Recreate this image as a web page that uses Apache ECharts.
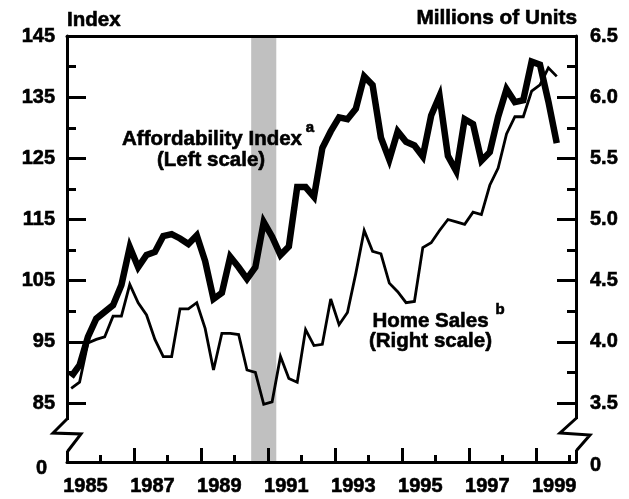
<!DOCTYPE html>
<html>
<head>
<meta charset="utf-8">
<style>
  html, body { margin: 0; padding: 0; background: #fff; }
  #chart { width: 629px; height: 499px; }
</style>
<script src="https://cdn.jsdelivr.net/npm/echarts@6/dist/echarts.min.js"></script>
</head>
<body>
<div id="chart"></div>
<script>
  // quarterly data, 1985Q1 .. 1999Q3
  const startYear = 1985;
  const affordability = [89.3, 91.2, 95.8, 98.8, 99.9, 101.0, 104.3, 110.5, 107.2, 109.2,
    109.7, 112.3, 112.6, 111.9, 111.0, 112.4, 108.2, 102.0, 103.0, 108.9,
    107.2, 105.3, 107.2, 114.6, 112.2, 109.2, 110.6, 120.3, 120.3, 118.7,
    126.7, 129.4, 131.7, 131.4, 133.1, 138.4, 137.0, 128.4, 124.8, 129.4,
    127.7, 127.1, 125.3, 132.0, 135.2, 125.4, 122.9, 131.4, 130.6, 124.6,
    126.0, 131.8, 136.3, 134.2, 134.5, 140.8, 140.3, 134.3, 127.5];
  const homeSales = [3.62, 3.67, 3.99, 4.02, 4.04, 4.21, 4.21, 4.47, 4.32, 4.22,
    4.02, 3.88, 3.88, 4.27, 4.27, 4.32, 4.11, 3.77, 4.07, 4.07,
    4.06, 3.77, 3.75, 3.49, 3.51, 3.88, 3.70, 3.67, 4.10, 3.97,
    3.98, 4.35, 4.14, 4.24, 4.56, 4.91, 4.74, 4.72, 4.48, 4.41,
    4.32, 4.33, 4.77, 4.81, 4.91, 5.00, 4.98, 4.96, 5.06, 5.04,
    5.28, 5.42, 5.70, 5.84, 5.84, 6.05, 6.10, 6.24, 6.17];
  const recession = [1990.5, 1991.25];

  const leftTicks = [85, 95, 105, 115, 125, 135, 145];
  const leftMinor = [90, 100, 110, 120, 130, 140];
  const rightTicks = [3.5, 4.0, 4.5, 5.0, 5.5, 6.0, 6.5];
  const rightMinor = [3.75, 4.25, 4.75, 5.25, 5.75, 6.25];
  const yearLabels = [1985, 1987, 1989, 1991, 1993, 1995, 1997, 1999];
  const longYearTicks = [1987, 1989, 1991, 1993, 1995, 1997, 1999];
  const shortYearTicks = [1986, 1988, 1990, 1992, 1994, 1996, 1998, 2000];

  // bottom of the broken axes stands for 0
  const leftMin = 75.36, leftMax = 145;
  const rightMin = 3.018, rightMax = 6.5;
  const xMin = 1985, xMax = 2000.2;

  const font = '"Liberation Sans", Arial, sans-serif';
  const txt = { color: '#000', fontSize: 20, fontWeight: 'bold', fontFamily: font,
    textBorderColor: '#000', textBorderWidth: 0.6 };
  const blackLine = { color: '#000', width: 3 };

  const quarterX = i => startYear + (i + 0.5) / 4;

  function label(text, x, y, size, align) {
    return {
      type: 'text', z: 100, x: x, y: y,
      style: { text: text, textAlign: align || 'center', textVerticalAlign: 'middle',
        fill: '#000', stroke: '#000', lineWidth: 0.6, font: 'bold ' + size + 'px ' + font }
    };
  }

  const chart = echarts.init(document.getElementById('chart'));
  chart.setOption({
    animation: false,
    backgroundColor: '#fff',
    grid: { left: 67, right: 53, top: 36, bottom: 37, containLabel: false },
    xAxis: [
      {
        type: 'value', position: 'bottom', min: xMin, max: xMax, z: 5,
        axisLine: { show: true, onZero: false, lineStyle: blackLine },
        axisTick: { show: true, inside: true, length: 14, customValues: longYearTicks, lineStyle: blackLine },
        axisLabel: Object.assign({
          show: true, margin: 14,
          customValues: yearLabels.map(y => y + 0.55),
          formatter: v => String(Math.floor(v))
        }, txt),
        splitLine: { show: false }
      },
      {
        type: 'value', position: 'bottom', min: xMin, max: xMax, z: 5,
        axisLine: { show: false },
        axisTick: { show: true, inside: true, length: 7, customValues: shortYearTicks, lineStyle: blackLine },
        axisLabel: { show: false },
        splitLine: { show: false }
      },
      {
        type: 'value', position: 'top', min: xMin, max: xMax, z: 5,
        axisLine: { show: true, onZero: false, lineStyle: blackLine },
        axisTick: { show: false },
        axisLabel: { show: false },
        splitLine: { show: false }
      }
    ],
    yAxis: [
      {
        type: 'value', position: 'left', min: leftMin, max: leftMax, z: 5,
        axisLine: { show: true, onZero: false, lineStyle: blackLine },
        axisTick: { show: true, inside: true, length: 19, customValues: leftTicks, lineStyle: blackLine },
        axisLabel: Object.assign({
          margin: 12,
          customValues: [leftMin].concat(leftTicks),
          formatter: v => v < 80 ? '{z|0}' : String(v),
          rich: { z: Object.assign({ padding: [12, 8, 0, 0] }, txt) }
        }, txt),
        splitLine: { show: false }
      },
      {
        type: 'value', position: 'right', min: rightMin, max: rightMax, z: 5,
        axisLine: { show: true, onZero: false, lineStyle: blackLine },
        axisTick: { show: true, inside: true, length: 19, customValues: rightTicks, lineStyle: blackLine },
        axisLabel: Object.assign({
          margin: 14,
          customValues: [rightMin].concat(rightTicks),
          formatter: v => v < 3.2 ? '{z|0}' : v.toFixed(1),
          rich: { z: Object.assign({ padding: [6, 0, 0, 0] }, txt) }
        }, txt),
        splitLine: { show: false }
      },
      {
        type: 'value', position: 'left', min: leftMin, max: leftMax, z: 5,
        axisLine: { show: false },
        axisTick: { show: true, inside: true, length: 9, customValues: leftMinor, lineStyle: blackLine },
        axisLabel: { show: false },
        splitLine: { show: false }
      },
      {
        type: 'value', position: 'right', min: rightMin, max: rightMax, z: 5,
        axisLine: { show: false },
        axisTick: { show: true, inside: true, length: 9, customValues: rightMinor, lineStyle: blackLine },
        axisLabel: { show: false },
        splitLine: { show: false }
      }
    ],
    series: [
      {
        name: 'Home Sales',
        type: 'line',
        xAxisIndex: 0,
        yAxisIndex: 1,
        z: 2,
        symbol: 'none',
        lineStyle: { color: '#000', width: 2.8, join: 'miter', miterLimit: 4 },
        data: homeSales.map((v, i) => [quarterX(i), v]),
        markArea: {
          silent: true,
          itemStyle: { color: '#c0c0c0' },
          data: [[{ xAxis: recession[0] }, { xAxis: recession[1] }]]
        }
      },
      {
        name: 'Affordability Index',
        type: 'line',
        xAxisIndex: 0,
        yAxisIndex: 0,
        z: 3,
        symbol: 'none',
        lineStyle: { color: '#000', width: 6.5, join: 'miter', miterLimit: 4 },
        data: affordability.map((v, i) => [quarterX(i), v])
      }
    ],
    graphic: [
      // axis breaks
      { type: 'rect', z: 100, shape: { x: 63, y: 420, width: 8, height: 31 }, style: { fill: '#fff' } },
      { type: 'rect', z: 100, shape: { x: 572, y: 419, width: 8, height: 31 }, style: { fill: '#fff' } },
      { type: 'polyline', z: 101, shape: { points: [[67.5, 418.5], [53, 433], [81, 434], [67.5, 451.5]] },
        style: { stroke: '#000', lineWidth: 3, fill: null, lineJoin: 'miter' } },
      { type: 'polyline', z: 101, shape: { points: [[576.5, 418], [560, 433], [590, 435], [576.5, 450.5]] },
        style: { stroke: '#000', lineWidth: 3, fill: null, lineJoin: 'miter' } },
      // titles
      label('Index', 67, 20, 20.5, 'left'),
      label('Millions of Units', 577, 18.5, 20.8, 'right'),
      // annotations
      label('Affordability Index', 212, 139.5, 20.5),
      label('a', 310, 128, 15),
      label('(Left scale)', 211, 160, 20.5),
      label('Home Sales', 430.5, 321.5, 20.5),
      label('b', 500, 310, 15),
      label('(Right scale)', 430.5, 341.5, 20.5)
    ]
  });
</script>
</body>
</html>
